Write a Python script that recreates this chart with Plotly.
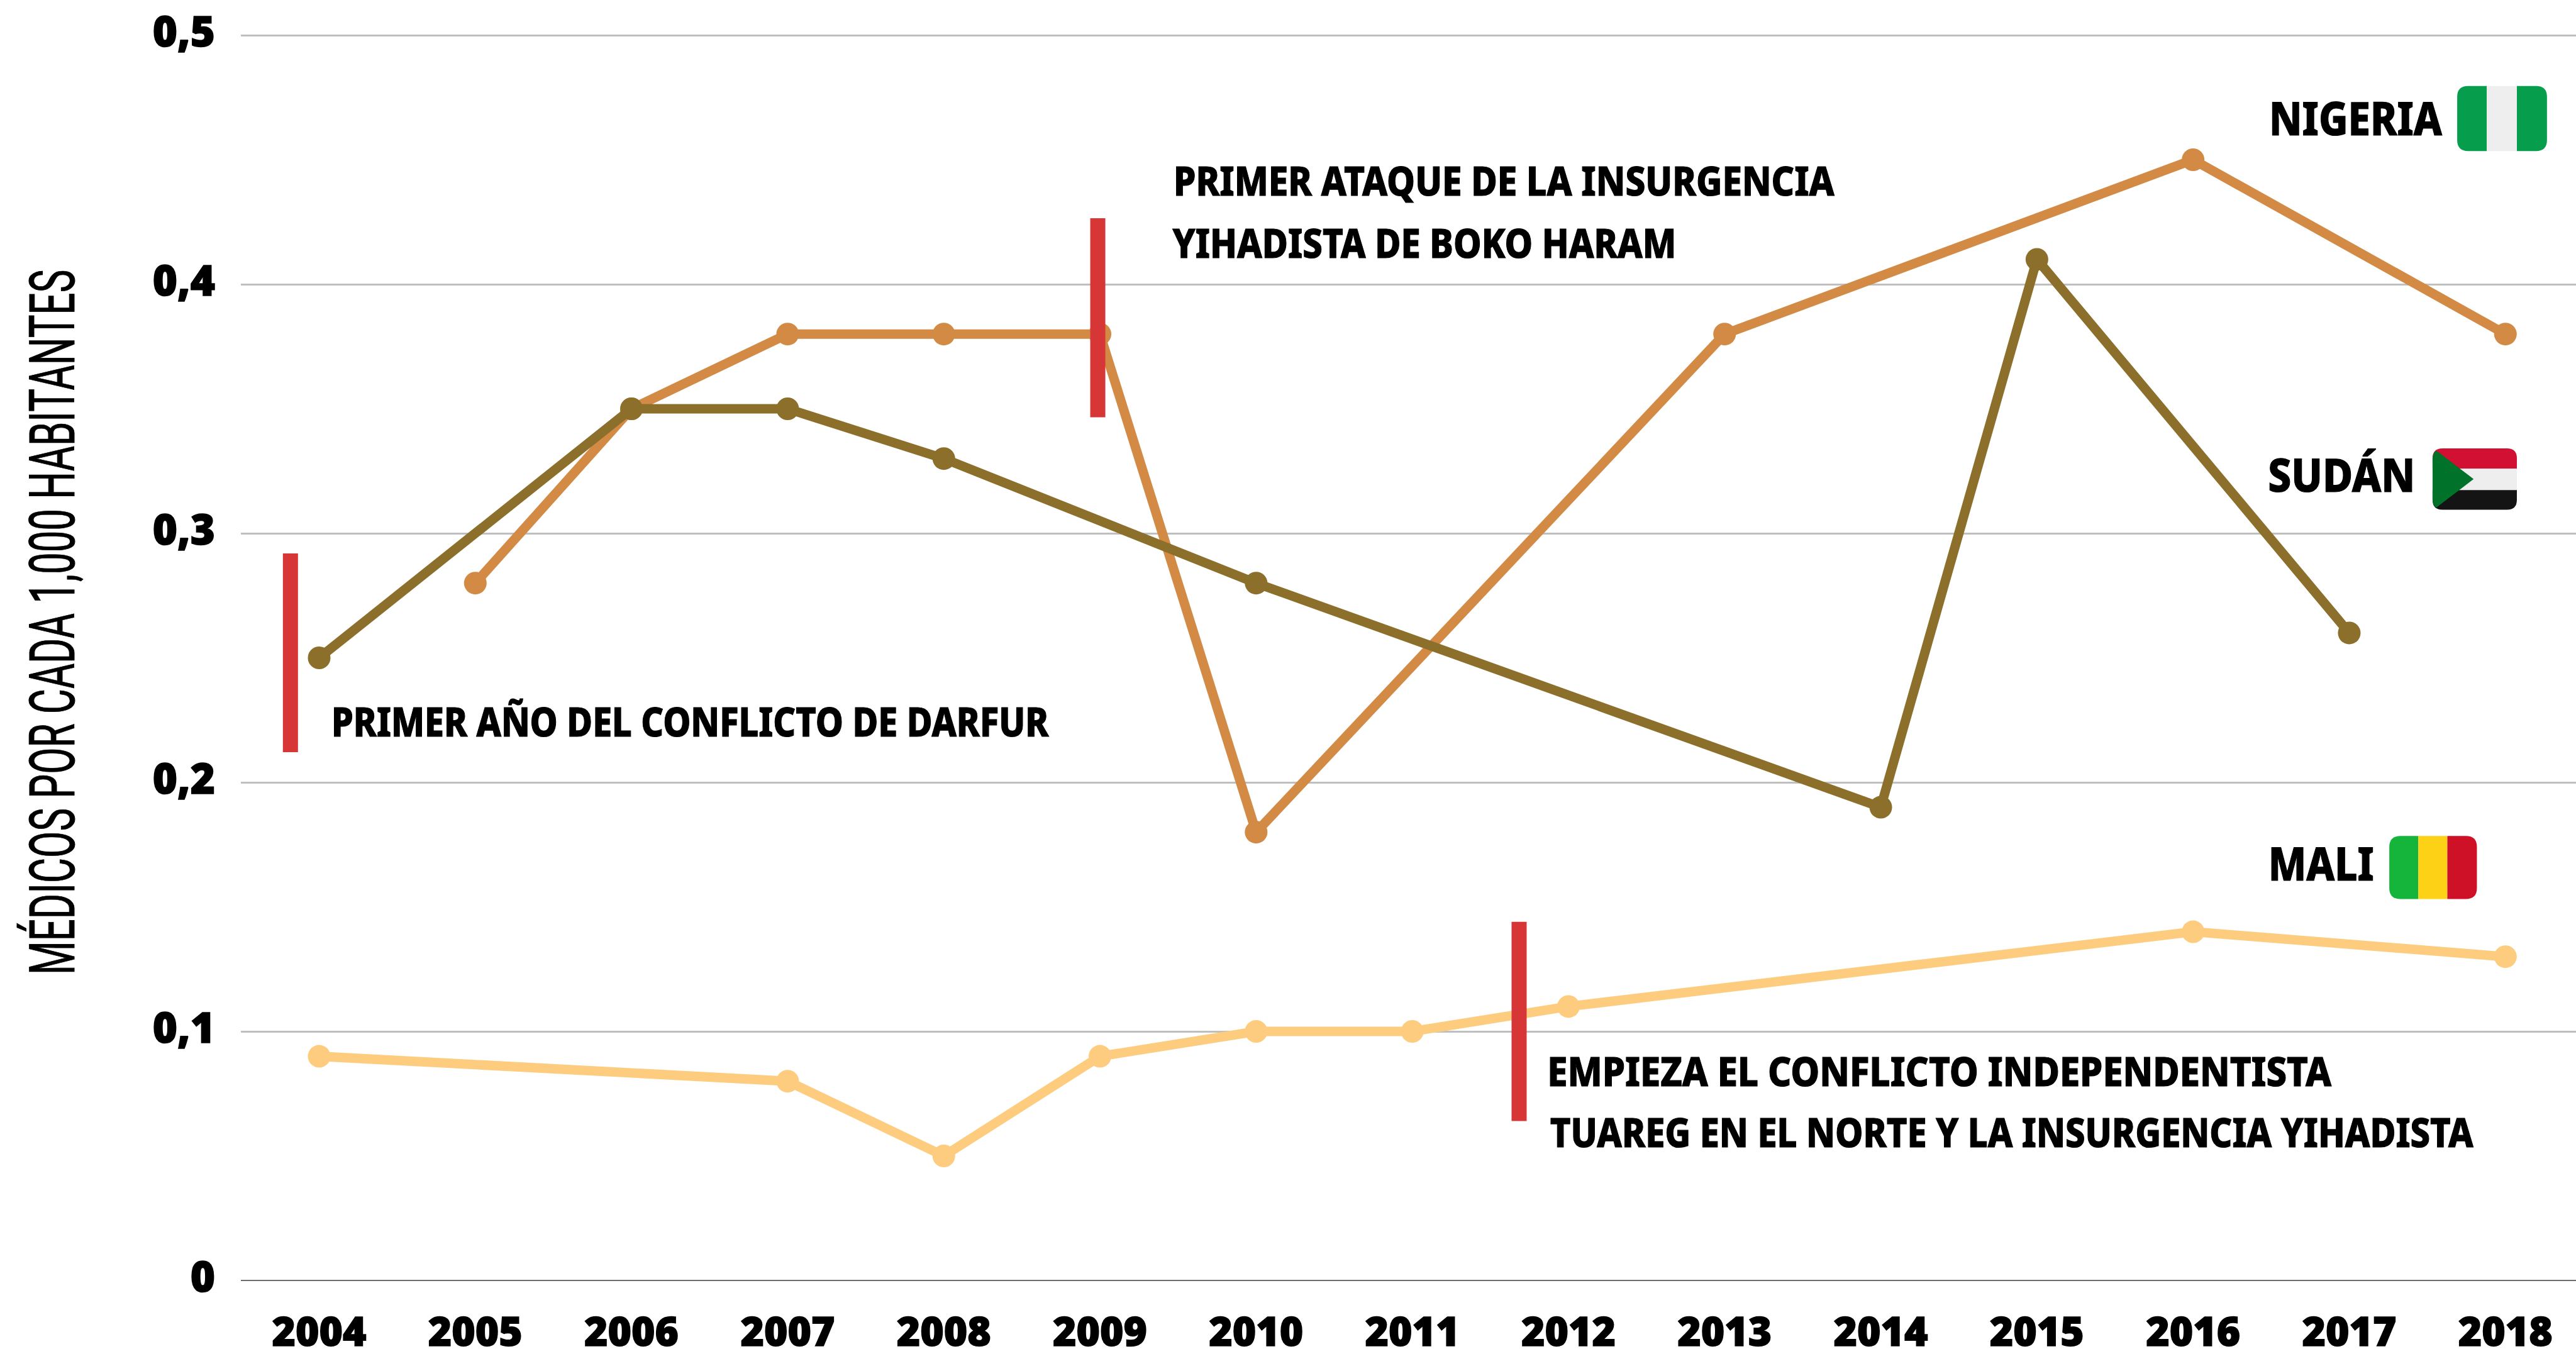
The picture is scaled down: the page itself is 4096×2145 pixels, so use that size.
import json
import plotly.graph_objects as go

years = list(range(2004, 2019))
year_labels = [str(y) for y in years]

nigeria_years = [2005, 2006, 2007, 2008, 2009, 2010, 2013, 2016, 2018]
nigeria_values = [0.28, 0.35, 0.38, 0.38, 0.38, 0.18, 0.38, 0.45, 0.38]
sudan_years = [2004, 2006, 2007, 2008, 2010, 2014, 2015, 2017]
sudan_values = [0.25, 0.35, 0.35, 0.33, 0.28, 0.19, 0.41, 0.26]
mali_years = [2004, 2007, 2008, 2009, 2010, 2011, 2012, 2016, 2018]
mali_values = [0.09, 0.08, 0.05, 0.09, 0.10, 0.10, 0.11, 0.14, 0.13]

y_ticks = [0, 0.1, 0.2, 0.3, 0.4, 0.5]
y_tick_labels = ["0", "0,1", "0,2", "0,3", "0,4", "0,5"]
y_title = "MÉDICOS POR CADA 1,000 HABITANTES"

event_x = [2003.816, 2008.986, 2011.684]
event_lo = [0.2121, 0.3466, 0.0640]
event_hi = [0.2919, 0.4265, 0.1440]

W, H = 4096, 2145
K = 4096 / 4705
L, R = 383, 0
T, B = 40, 109
PW, PH = W - L - R, H - T - B
Y_TOP = (2036 - T) / 3960
FONT = "Noto Sans, Open Sans"
EVENT_RED = "#D63636"


def X(px):
    return (px * K - L) / PW


def Y(py):
    return 1 - (py * K - T) / PH


def rounded(x0, y0, x1, y1, r, corners=""):
    """corners: any of 'a' top-left, 'b' top-right, 'c' bottom-right, 'd' bottom-left."""
    p = []
    if "a" in corners:
        p.append(f"M{X(x0)},{Y(y0 + r)} Q{X(x0)},{Y(y0)} {X(x0 + r)},{Y(y0)}")
    else:
        p.append(f"M{X(x0)},{Y(y0)}")
    if "b" in corners:
        p.append(f"L{X(x1 - r)},{Y(y0)} Q{X(x1)},{Y(y0)} {X(x1)},{Y(y0 + r)}")
    else:
        p.append(f"L{X(x1)},{Y(y0)}")
    if "c" in corners:
        p.append(f"L{X(x1)},{Y(y1 - r)} Q{X(x1)},{Y(y1)} {X(x1 - r)},{Y(y1)}")
    else:
        p.append(f"L{X(x1)},{Y(y1)}")
    if "d" in corners:
        p.append(f"L{X(x0 + r)},{Y(y1)} Q{X(x0)},{Y(y1)} {X(x0)},{Y(y1 - r)}")
    else:
        p.append(f"L{X(x0)},{Y(y1)}")
    return " ".join(p) + " Z"


def flag_part(path, color):
    return dict(type="path", xref="paper", yref="paper", path=path,
                fillcolor=color, line=dict(width=0), layer="above")


shapes = []
for x, lo, hi in zip(event_x, event_lo, event_hi):
    shapes.append(dict(type="line", xref="x", yref="y", x0=x, x1=x, y0=lo, y1=hi,
                       line=dict(color=EVENT_RED, width=24), layer="above"))

shapes += [
    flag_part(rounded(4488, 157, 4542, 276, 20, "ad"), "#069E4D"),
    flag_part(rounded(4542, 157, 4597, 276, 20), "#EEEEEE"),
    flag_part(rounded(4597, 157, 4652, 276, 20, "bc"), "#069E4D"),
]
shapes += [
    flag_part(rounded(4443, 819, 4597, 856, 18, "ab"), "#D21034"),
    flag_part(rounded(4443, 856, 4597, 895, 18), "#EEEEEE"),
    flag_part(rounded(4443, 895, 4597, 931, 18, "cd"), "#141414"),
    flag_part(
        f"M{X(4450)},{Y(823)} L{X(4518)},{Y(875)} L{X(4450)},{Y(927)} "
        f"Q{X(4443)},{Y(922)} {X(4443)},{Y(912)} L{X(4443)},{Y(838)} "
        f"Q{X(4443)},{Y(828)} {X(4450)},{Y(823)} Z", "#007229"),
]
shapes += [
    flag_part(rounded(4364, 1527, 4417, 1642, 20, "ad"), "#14B53A"),
    flag_part(rounded(4417, 1527, 4470, 1642, 20), "#FCD116"),
    flag_part(rounded(4470, 1527, 4524, 1642, 20, "bc"), "#CE1126"),
]

labels = [
    ("NIGERIA", 4144, 4460, 214, 60),
    ("SUDÁN", 4143, 4412, 866, 60),
    ("MALI", 4143, 4336, 1575, 60),
    ("PRIMER AÑO DEL CONFLICTO DE DARFUR", 606, 1916, 1316, 53),
    ("PRIMER ATAQUE DE LA INSURGENCIA", 2143, 3350, 329, 53),
    ("YIHADISTA DE BOKO HARAM", 2142, 3062, 442, 53),
    ("EMPIEZA EL CONFLICTO INDEPENDENTISTA", 2826, 4258, 1955, 53),
    ("TUAREG EN EL NORTE Y LA INSURGENCIA YIHADISTA", 2832, 4518, 2067, 53),
]

annotations = []
target_lengths = {}
for text, x0, x1, yc, cap in labels:
    annotations.append(dict(
        text=text, xref="paper", yref="paper", x=X((x0 + x1) / 2), y=Y(yc),
        xanchor="center", yanchor="middle", showarrow=False,
        font=dict(family=FONT, size=cap * K / 0.714, weight=800, color="#000000")))
    target_lengths[text] = (x1 - x0) * K

annotations.append(dict(
    text=y_title, xref="paper", yref="paper", x=X(96), y=Y(1137),
    xanchor="center", yanchor="middle", showarrow=False, textangle=-90,
    font=dict(family="Liberation Sans Narrow, Roboto", size=100, color="#000000")))
target_lengths[y_title] = 1288 * K

fig = go.Figure()
for name, xs, ys, color in [
    ("Nigeria", nigeria_years, nigeria_values, "#D28A45"),
    ("Sudán", sudan_years, sudan_values, "#8B6F2B"),
    ("Mali", mali_years, mali_values, "#FECC7E"),
]:
    fig.add_trace(go.Scatter(x=xs, y=ys, name=name, mode="lines+markers",
                             line=dict(color=color, width=15),
                             marker=dict(color=color, size=36, line=dict(width=0)),
                             cliponaxis=False, hoverinfo="skip"))

fig.update_layout(
    width=W, height=H, autosize=False,
    margin=dict(l=L, r=R, t=T, b=B, pad=0, autoexpand=False),
    paper_bgcolor="#FFFFFF", plot_bgcolor="#FFFFFF",
    showlegend=False, hovermode=False,
    shapes=shapes, annotations=annotations,
    xaxis=dict(range=[2003.4986, 2018.452], tickmode="array", tickvals=years,
               ticktext=year_labels, showgrid=False, zeroline=False, showline=False,
               ticks="", ticklabelstandoff=39, automargin=False,
               tickfont=dict(family=FONT, size=64, weight=900, color="#000000")),
    yaxis=dict(range=[0, Y_TOP], tickmode="array", tickvals=y_ticks,
               ticktext=y_tick_labels, showgrid=True, gridcolor="#BFBFBF", gridwidth=2.6,
               zeroline=True, zerolinecolor="#6B6B6B", zerolinewidth=2.2, showline=False,
               ticks="", ticklabelstandoff=40, automargin=False, ticklabelshift=-5,
               tickfont=dict(family=FONT, size=67, weight=900, color="#000000")),
)

post = """
document.documentElement.style.margin = '0';
document.body.style.margin = '0';
document.body.style.overflow = 'hidden';
var targets = %s;
var yTitle = %s;
document.querySelectorAll('.annotation-text').forEach(function (el) {
  var t = targets[el.textContent];
  if (t) {
    el.setAttribute('textLength', t);
    el.setAttribute('lengthAdjust', 'spacingAndGlyphs');
  }
  el.style.stroke = '#000000';
  el.style.strokeWidth = el.textContent === yTitle ? '1px' : '1.2px';
});
document.querySelectorAll('.xtick text, .ytick text').forEach(function (el) {
  el.style.stroke = '#000000';
  el.style.strokeWidth = '1.5px';
});
""" % (json.dumps(target_lengths, ensure_ascii=False), json.dumps(y_title, ensure_ascii=False))

fig.write_html("out.html", post_script=post, config=dict(displayModeBar=False))
